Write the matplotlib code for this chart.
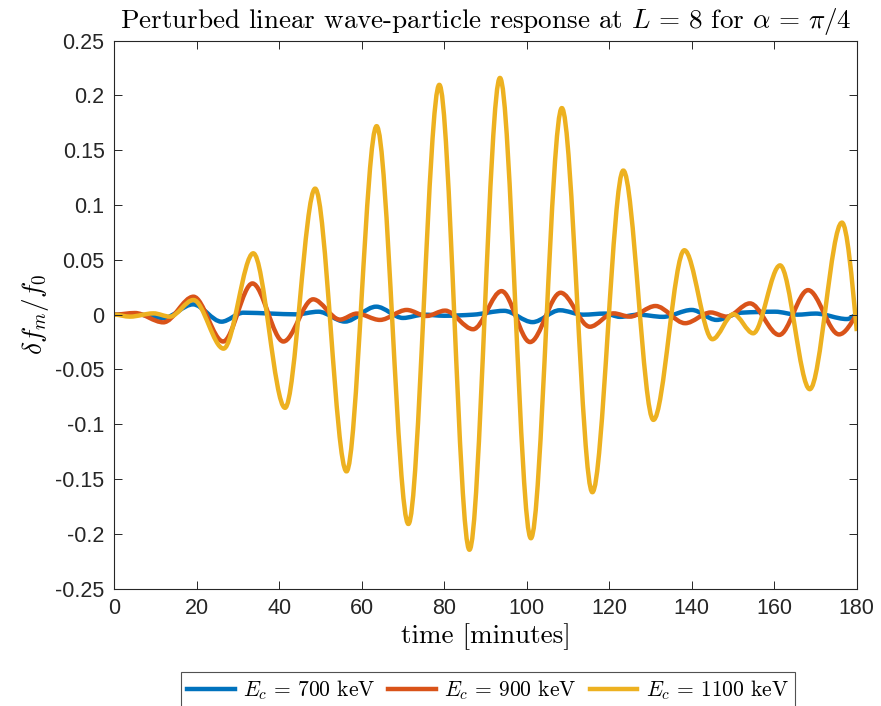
import numpy as np
import matplotlib
matplotlib.use("Agg")
import matplotlib.pyplot as plt
from matplotlib.path import Path
from matplotlib.patches import PathPatch
from matplotlib.lines import Line2D

plt.rcParams['mathtext.fontset'] = 'cm'
plt.rcParams['axes.unicode_minus'] = False

# extrema (time in minutes, df/f0)
t_700 = [0, 5, 12, 19.1, 26.0, 31.3, 38, 44, 49.5, 55.9, 63.5, 70.0, 75, 80, 87,
         94.5, 101.4, 108, 113.7, 119, 122.6, 127, 133, 140, 146, 152, 160.2,
         165.6, 170, 177.6, 180]
v_700 = [0, 0.0005, -0.003, 0.0094, -0.0064, 0.0018, 0.001, 0.0003, 0.0027, -0.0063,
         0.0073, -0.003, 0.0, -0.001, 0.0, 0.0035, -0.0068, 0.004, 0.0, 0.001,
         -0.002, 0.0, -0.002, 0.0043, -0.0048, 0.0018, 0.0027, 0.0, 0.001, -0.004, 0.001]

t_900 = [0, 5.0, 11.9, 19.2, 26.4, 33.5, 41.0, 48.2, 54.7, 58.8, 64.4, 70.9, 75.7,
         80.2, 87.0, 93.9, 100.8, 108.2, 115.3, 121, 125, 131.2, 138.4, 144.6,
         148.5, 154.1, 161.2, 168.2, 175.7, 180]
v_900 = [0, 0.0015, -0.007, 0.0164, -0.0245, 0.0285, -0.0245, 0.014, -0.0045, 0.001,
         -0.0048, 0.0043, -0.0012, 0.0037, -0.0133, 0.0215, -0.025, 0.020, -0.011,
         0.0012, -0.0018, 0.0079, -0.0078, 0.002, -0.0018, 0.0103, -0.0185, 0.0224,
         -0.018, 0.001]

t_1100 = [0, 3.8, 9.5, 13.5, 19.2, 26.5, 33.7, 41.4, 48.7, 56.3, 63.6, 71.3, 78.8,
          86.1, 93.5, 101.0, 108.5, 115.9, 123.4, 130.7, 138.2, 145.0, 150.1, 154.9,
          161.4, 168.6, 176.4, 180]
v_1100 = [0, -0.0018, 0.0012, -0.0018, 0.0134, -0.031, 0.056, -0.085, 0.115, -0.143,
          0.172, -0.191, 0.2097, -0.2145, 0.216, -0.204, 0.1885, -0.162, 0.1315, -0.096,
          0.0588, -0.0224, 0.0004, -0.017, 0.045, -0.068, 0.084, -0.015]

labels = [r'$E_c\,=\,700$ keV', r'$E_c\,=\,900$ keV', r'$E_c\,=\,1100$ keV']
colors = ['#0072BD', '#D95319', '#EDB120']

yticks = [-0.25, -0.2, -0.15, -0.1, -0.05, 0, 0.05, 0.1, 0.15, 0.2, 0.25]
ytick_labels = ['-0.25', '-0.2', '-0.15', '-0.1', '-0.05', '0', '0.05', '0.1',
                '0.15', '0.2', '0.25']
xticks = [0, 20, 40, 60, 80, 100, 120, 140, 160, 180]


def smooth_path(t, v):
    # bezier path through the knots, flat at the turning points
    t = np.asarray(t, float)
    v = np.asarray(v, float)
    d = np.diff(v) / np.diff(t)
    m = np.zeros_like(t)
    for i in range(1, len(t) - 1):
        if d[i - 1] * d[i] > 0:
            m[i] = 2 * d[i - 1] * d[i] / (d[i - 1] + d[i])
    m[-1] = 1.5 * d[-1]
    verts = [(t[0], v[0])]
    codes = [Path.MOVETO]
    for i in range(len(t) - 1):
        h = t[i + 1] - t[i]
        verts += [(t[i] + h / 3, v[i] + m[i] * h / 3),
                  (t[i + 1] - h / 3, v[i + 1] - m[i + 1] * h / 3),
                  (t[i + 1], v[i + 1])]
        codes += [Path.CURVE4] * 3
    return Path(verts, codes)


fig = plt.figure(figsize=(8.81, 7.06), dpi=100)
ax = fig.add_axes([0.1297, 0.1662, 0.8428, 0.7762])

lw = 3.2
for t, v, c in [(t_700, v_700, colors[0]), (t_900, v_900, colors[1]),
                (t_1100, v_1100, colors[2])]:
    ax.add_patch(PathPatch(smooth_path(t, v), fill=False, edgecolor=c, lw=lw,
                           joinstyle='round', capstyle='butt'))

ax.set_xlim(0, 180)
ax.set_ylim(-0.25, 0.25)
ax.set_xticks(xticks)
ax.set_xticklabels([str(x) for x in xticks])
ax.set_yticks(yticks)
ax.set_yticklabels(ytick_labels)

dark = '#262626'
for s in ax.spines.values():
    s.set_color(dark)
    s.set_linewidth(0.8)
ax.tick_params(direction='in', length=5.5, width=0.7, colors=dark, top=True,
               right=True, labelsize=15.5, pad=7)
for lab in ax.get_xticklabels() + ax.get_yticklabels():
    lab.set_family('Liberation Sans')

ax.set_title(r'Perturbed linear wave-particle response at $L\,=\,8$ for $\alpha\,=\,\pi/4$',
             fontsize=19.5, family='cmr10', pad=9)
ax.set_xlabel('time [minutes]', fontsize=19.5, family='cmr10', labelpad=3)
ax.set_ylabel(r'$\delta f_m / f_0$', fontsize=19.5, labelpad=3)

handles = [Line2D([], [], color=c, lw=lw) for c in colors]
leg = fig.legend(handles, labels, loc='upper center', bbox_to_anchor=(0.554, 0.048),
                 ncol=3, prop={'family': 'cmr10', 'size': 15.5}, frameon=True,
                 fancybox=False, edgecolor=dark, handlelength=2.2, borderaxespad=0,
                 handletextpad=0.4, columnspacing=0.6, borderpad=0.3)
leg.get_frame().set_linewidth(0.8)

fig.savefig('out.png', dpi=100)
